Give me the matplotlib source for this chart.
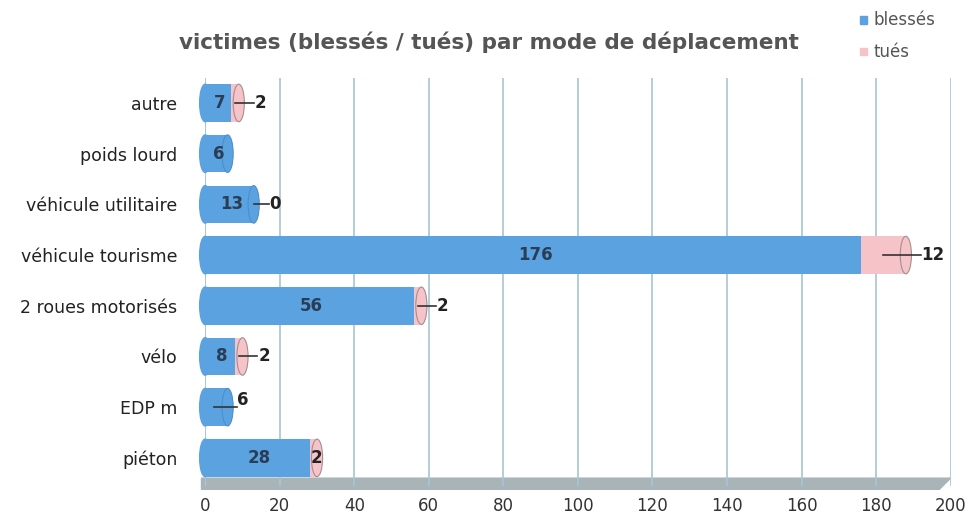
import numpy as np
import matplotlib.pyplot as plt
from matplotlib.patches import Polygon, Ellipse

categories = ["autre", "poids lourd", "véhicule utilitaire", "véhicule tourisme",
              "2 roues motorisés", "vélo", "EDP m", "piéton"]
blesses = [7, 6, 13, 176, 56, 8, 6, 28]
tues = [2, 0, 0, 12, 2, 2, 0, 2]
# which tués labels are shown (poids lourd / EDP m have none)
tues_label = ["2", "", "0", "12", "2", "2", "", "2"]
xticks = np.arange(0, 201, 20)

blue = "#5ba3e0"
pink = "#f6c3c8"

fig = plt.figure(figsize=(9.68, 5.28), dpi=100)
ax = fig.add_axes([0.212, 0.08, 0.77, 0.773])

y = np.arange(len(categories))
h = 0.74
cap = 3.0  # width of the cylinder end cap, in data units

# floor of the 3D chart
ax.add_patch(Polygon([[-1, 7.4], [200, 7.4], [197, 7.62], [-1, 7.62]],
                     closed=True, color="#a9b4b8", zorder=0, clip_on=False))

ax.barh(y, blesses, height=h, color=blue, edgecolor="none", zorder=3)
ax.barh(y, tues, left=blesses, height=h, color=pink, edgecolor="none", zorder=3)

for i in range(len(categories)):
    b, t = blesses[i], tues[i]
    end = b + t
    # rounded left end and cylinder cap at the right end
    ax.add_patch(Ellipse((0, i), cap, h, color=blue, zorder=3, clip_on=False))
    ax.add_patch(Ellipse((end, i), cap, h, facecolor=pink if t > 0 else blue,
                         edgecolor="#a09090" if t > 0 else "#4a8fcc", lw=0.8, zorder=3))

    if categories[i] == "EDP m":
        ax.plot([b * 0.4, end + 2.5], [i, i], color="#333333", lw=1.2, zorder=4)
        ax.text(end + 2.6, i - 0.15, str(b), ha="left", va="center",
                fontsize=12, fontweight="bold", color="#222222", zorder=5)
        continue
    ax.text(b / 2 + 0.5, i, str(b), ha="center", va="center",
            fontsize=12, fontweight="bold", color="#2a3d55", zorder=5)
    lab = tues_label[i]
    if lab == "":
        continue
    if categories[i] == "piéton":
        ax.text(b + t / 2 + 0.8, i, lab, ha="center", va="center",
                fontsize=12, fontweight="bold", color="#222222", zorder=5)
    else:
        ax.plot([b + t * 0.5, end + 4], [i, i], color="#333333", lw=1.2, zorder=4)
        ax.text(end + 4.2, i, lab, ha="left", va="center",
                fontsize=12, fontweight="bold", color="#222222", zorder=5)

ax.set_xlim(0, 200)
ax.set_ylim(7.55, -0.5)
ax.set_xticks(xticks)
ax.set_xticklabels([str(v) for v in xticks], fontsize=12, color="#333333")
ax.set_yticks(y)
ax.set_yticklabels(categories, fontsize=12.5, color="#222222")
ax.tick_params(length=0)
ax.tick_params(axis="y", pad=20)
ax.tick_params(axis="x", pad=8)
ax.grid(axis="x", color="#a8c4d4", lw=1.2, zorder=1)
for s in ax.spines.values():
    s.set_visible(False)
ax.axvline(0, color="#c8d4da", lw=1.5, zorder=1)

fig.text(0.505, 0.92, "victimes (blessés / tués) par mode de déplacement",
         ha="center", va="center", fontsize=15.5, fontweight="bold", color="#555555")

# legend
fig.patches.append(plt.Rectangle((0.888, 0.955), 0.008, 0.015, color=blue,
                                 transform=fig.transFigure, figure=fig))
fig.text(0.902, 0.962, "blessés", fontsize=12, color="#555555", va="center")
fig.patches.append(plt.Rectangle((0.888, 0.895), 0.008, 0.015, color=pink,
                                 transform=fig.transFigure, figure=fig))
fig.text(0.902, 0.902, "tués", fontsize=12, color="#555555", va="center")

fig.savefig("out.png", dpi=100)
